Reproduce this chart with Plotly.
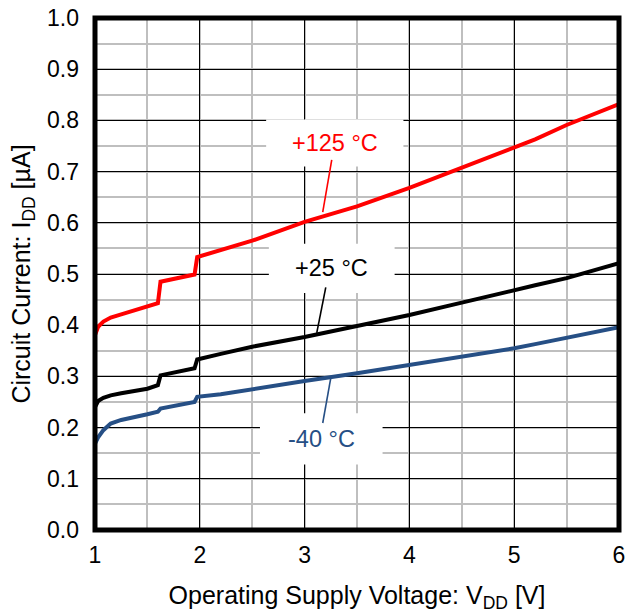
import plotly.graph_objects as go

# ---------------- data ----------------
vdd = [1.0, 1.03, 1.08, 1.15, 1.25, 1.4, 1.5, 1.6, 1.625, 1.95, 1.975, 2.2, 2.5,
       3.0, 3.5, 4.0, 4.5, 5.0, 5.2, 5.5, 6.0]
i_125 = [0.381, 0.397, 0.407, 0.415, 0.421, 0.431, 0.436, 0.443, 0.485, 0.499, 0.533,
         0.547, 0.565, 0.602, 0.632, 0.668, 0.707, 0.746, 0.763, 0.791, 0.832]
i_25 = [0.240, 0.252, 0.258, 0.263, 0.267, 0.272, 0.276, 0.283, 0.302, 0.316, 0.333,
        0.344, 0.358, 0.377, 0.398, 0.420, 0.444, 0.469, 0.478, 0.492, 0.521]
i_m40 = [0.169, 0.181, 0.195, 0.208, 0.215, 0.221, 0.226, 0.231, 0.237, 0.250, 0.260,
         0.265, 0.275, 0.291, 0.306, 0.322, 0.339, 0.355, 0.363, 0.375, 0.396]

series_names = ["+125 °C", "+25 °C", "-40 °C"]
series_colors = ["#FF0000", "#000000", "#264F85"]

x_ticks = [1, 2, 3, 4, 5, 6]
y_ticks = [0.0, 0.1, 0.2, 0.3, 0.4, 0.5, 0.6, 0.7, 0.8, 0.9, 1.0]

# label boxes (centre, in data units) and leader lines
label_x = [3.288, 3.259, 3.159]
label_y = [0.756, 0.511, 0.178]
label_box_w = [1.31, 1.20, 1.17]      # in volts
label_box_h = [0.092, 0.096, 0.100]   # in uA
leader_x0 = [3.259, 3.202, 3.173]
leader_y0 = [0.723, 0.474, 0.209]
leader_x1 = [3.173, 3.116, 3.250]
leader_y1 = [0.621, 0.385, 0.297]

FONT = "Liberation Sans, Arial, sans-serif"

fig = go.Figure()
for ys, name, col in zip([i_125, i_25, i_m40], series_names, series_colors):
    fig.add_trace(go.Scatter(x=vdd, y=ys, mode="lines", name=name,
                             line=dict(color=col, width=4), showlegend=False))

shapes = []
annotations = []
for k in range(3):
    shapes.append(dict(type="rect", xref="x", yref="y",
                       x0=label_x[k] - label_box_w[k] / 2, x1=label_x[k] + label_box_w[k] / 2,
                       y0=label_y[k] - label_box_h[k] / 2, y1=label_y[k] + label_box_h[k] / 2,
                       fillcolor="white", line=dict(width=0), layer="above"))
for k in range(3):
    shapes.append(dict(type="line", xref="x", yref="y",
                       x0=leader_x0[k], y0=leader_y0[k], x1=leader_x1[k], y1=leader_y1[k],
                       line=dict(color=series_colors[k], width=1.6), layer="above"))
    annotations.append(dict(x=label_x[k], y=label_y[k], xref="x", yref="y",
                            text=series_names[k], showarrow=False,
                            font=dict(family=FONT, size=23.5, color=series_colors[k]),
                            xanchor="center", yanchor="middle"))
# frame
shapes.append(dict(type="rect", xref="paper", yref="paper", x0=0, x1=1, y0=0, y1=1,
                   line=dict(color="black", width=5), layer="above"))

fig.update_layout(
    width=627, height=613,
    margin=dict(l=95, r=7.5, t=18, b=83, autoexpand=False),
    paper_bgcolor="white", plot_bgcolor="white",
    font=dict(family=FONT, size=23, color="black"),
    shapes=shapes, annotations=annotations,
    xaxis=dict(range=[1, 6], tickvals=x_ticks, ticktext=[str(v) for v in x_ticks],
               automargin=False,
               showgrid=True, gridcolor="black", gridwidth=1.3,
               minor=dict(dtick=0.5, showgrid=True, gridcolor="#BFBFBF", gridwidth=2),
               zeroline=False, showline=False, ticks="", ticklabelstandoff=9,
               title=dict(text="Operating Supply Voltage: V<sub>DD</sub> [V]",
                          font=dict(size=25), standoff=19)),
    yaxis=dict(range=[0, 1], tickvals=y_ticks, ticktext=[f"{v:.1f}" for v in y_ticks],
               automargin=False,
               showgrid=True, gridcolor="black", gridwidth=1.3,
               minor=dict(dtick=0.05, showgrid=True, gridcolor="#BFBFBF", gridwidth=2),
               zeroline=False, showline=False, ticks="", ticklabelstandoff=15,
               title=dict(text="Circuit Current: I<sub>DD</sub> [µA]",
                          font=dict(size=25), standoff=9)),
)

fig.write_html("out.html", config={"displayModeBar": False},
               post_script="document.body.style.margin='0';")
